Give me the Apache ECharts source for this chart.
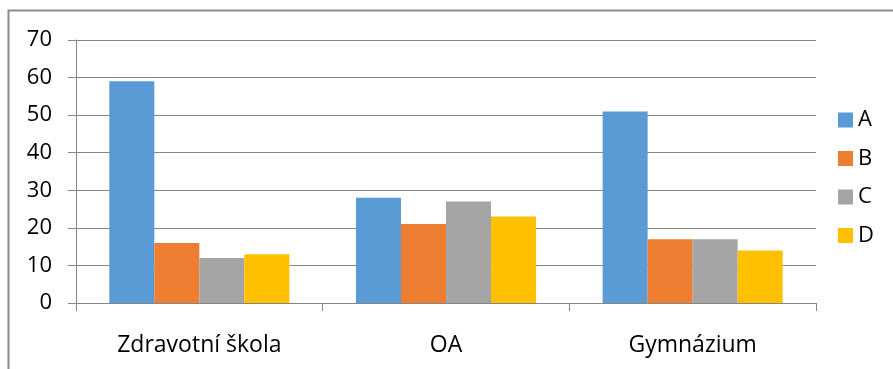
<!DOCTYPE html>
<html>
<head>
<meta charset="utf-8">
<script src="https://cdn.jsdelivr.net/npm/echarts@6/dist/echarts.min.js"></script>
<style>
  html, body { margin: 0; padding: 0; background: #fff; }
  #chart { width: 893px; height: 369px; }
</style>
</head>
<body>
<div id="chart"></div>
<script>
var categories = ["Zdravotní škola", "OA", "Gymnázium"];
var seriesNames = ["A", "B", "C", "D"];
var valuesA = [59, 28, 51];
var valuesB = [16, 21, 17];
var valuesC = [12, 27, 17];
var valuesD = [13, 23, 14];
var colors = ["#5B9BD5", "#ED7D31", "#A5A5A5", "#FFC000"];

var allValues = [valuesA, valuesB, valuesC, valuesD];
var font = "'Open Sans', 'Noto Sans', sans-serif";

var myChart = echarts.init(document.getElementById("chart"));

myChart.setOption({
    animation: false,
    textStyle: { fontFamily: font },
    // rámeček grafu (jen horní a levá hrana jsou vidět)
    graphic: [{
        type: "polyline",
        shape: { points: [[8.5, 369], [8.5, 10.5], [893, 10.5]] },
        style: { stroke: "#8c8c8c", lineWidth: 2, fill: null },
        silent: true
    }],
    legend: {
        orient: "vertical",
        left: 833,
        top: 104,
        padding: 5,
        itemWidth: 15,
        itemHeight: 15,
        itemGap: 16.5,
        icon: "rect",
        data: seriesNames,
        textStyle: { fontSize: 22, color: "#000", fontFamily: font }
    },
    grid: {
        left: 76,
        right: 77,
        top: 40,
        bottom: 66,
        containLabel: false
    },
    xAxis: [{
        type: "category",
        data: categories,
        axisLine: { lineStyle: { color: "#868686", width: 1 } },
        axisTick: { show: true, length: 8, lineStyle: { color: "#868686" } },
        axisLabel: { fontSize: 23, color: "#000", margin: 31, fontFamily: font }
    }],
    yAxis: [{
        type: "value",
        min: 0,
        max: 70,
        interval: 10,
        axisLine: { show: true, lineStyle: { color: "#868686", width: 1 } },
        axisTick: { show: true, length: 8, lineStyle: { color: "#868686" } },
        splitLine: { show: true, lineStyle: { color: "#868686", width: 1 } },
        axisLabel: { fontSize: 22, color: "#000", margin: 24, fontFamily: font }
    }],
    series: seriesNames.map(function (name, i) {
        return {
            name: name,
            type: "bar",
            data: allValues[i],
            barGap: "0%",
            barCategoryGap: "27%",
            itemStyle: { color: colors[i] }
        };
    })
});
</script>
</body>
</html>
